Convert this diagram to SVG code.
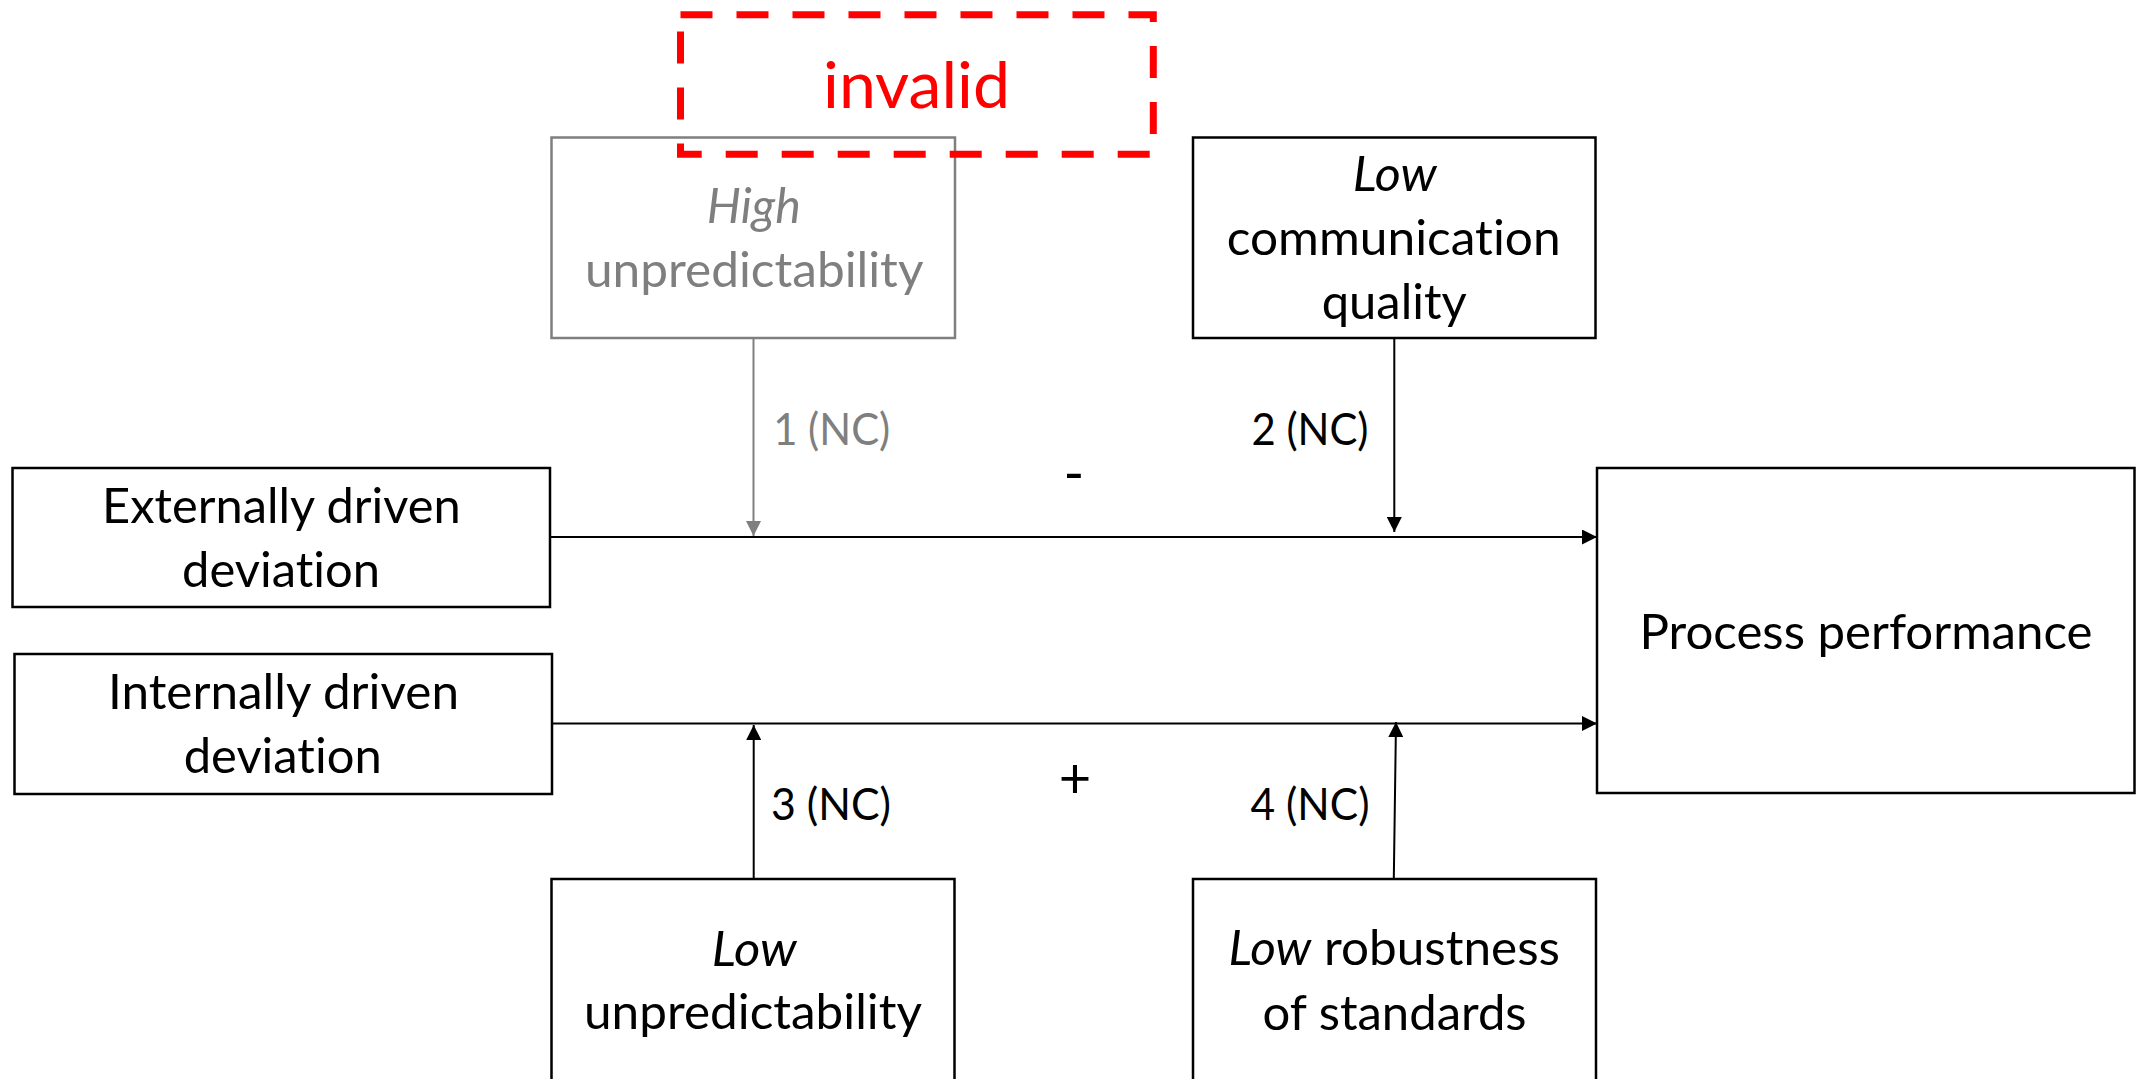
<svg xmlns="http://www.w3.org/2000/svg" width="2136" height="1079" viewBox="0 0 2136 1079">
<defs>
<style>
.box{fill:#fff;stroke:#000;stroke-width:2.5}
.gbox{fill:#fff;stroke:#7f7f7f;stroke-width:2.5}
.t{font-family:Lato,"Open Sans","Liberation Sans",sans-serif;font-size:49px;fill:#000;text-anchor:middle;font-variant-ligatures:none;font-feature-settings:"liga" 0,"dlig" 0}
.g{fill:#7f7f7f}
.lbl{font-size:44px}
.i{font-style:italic}
.ln{stroke:#000;stroke-width:2;fill:none}
.gln{stroke:#7f7f7f;stroke-width:2;fill:none}
</style>
<marker id="ah" markerUnits="userSpaceOnUse" markerWidth="15" markerHeight="15" refX="15" refY="7.5" orient="auto" viewBox="0 0 15 15"><path d="M0,0 L15,7.5 L0,15 z" fill="#000"/></marker>
<marker id="ahg" markerUnits="userSpaceOnUse" markerWidth="15" markerHeight="15" refX="15" refY="7.5" orient="auto" viewBox="0 0 15 15"><path d="M0,0 L15,7.5 L0,15 z" fill="#7f7f7f"/></marker>
</defs>
<rect width="2136" height="1079" fill="#fff"/>

<g id="connectors">
<line class="ln" x1="550" y1="537" x2="1597" y2="537" marker-end="url(#ah)"/>
<line class="ln" x1="552" y1="723.5" x2="1597" y2="723.5" marker-end="url(#ah)"/>
<line class="gln" x1="753.5" y1="338" x2="753.5" y2="536" marker-end="url(#ahg)"/>
<line class="ln" x1="1394.3" y1="338" x2="1394.3" y2="532" marker-end="url(#ah)"/>
<line class="ln" x1="753.7" y1="879" x2="753.7" y2="725" marker-end="url(#ah)"/>
<line class="ln" x1="1393.8" y1="879" x2="1396" y2="722" marker-end="url(#ah)"/>
<text class="t lbl g" x="831.7" y="445" textLength="117" lengthAdjust="spacingAndGlyphs">1 (NC)</text>
<text class="t lbl" x="1310" y="445" textLength="117" lengthAdjust="spacingAndGlyphs">2 (NC)</text>
<text class="t lbl" x="831" y="820" textLength="120" lengthAdjust="spacingAndGlyphs">3 (NC)</text>
<text class="t lbl" x="1310" y="820" textLength="119" lengthAdjust="spacingAndGlyphs">4 (NC)</text>
<text class="t" x="1074" y="493" style="font-size:56px">-</text>
<text class="t" x="1075" y="798" style="font-size:56px">+</text>
</g>

<g id="high-unpredictability">
<rect class="gbox" x="551.5" y="137.5" width="403.5" height="200.5"/>
<text class="t g i" x="753.8" y="223.3" textLength="94" lengthAdjust="spacingAndGlyphs">High</text>
<text class="t g" x="754.2" y="286.7" textLength="338.5" lengthAdjust="spacingAndGlyphs">unpredictability</text>
</g>

<g id="invalid">
<rect x="680.5" y="14.7" width="472.8" height="139.6" fill="none" stroke="#ff0000" stroke-width="7" stroke-dasharray="32 24"/>
<text class="t" x="916.5" y="108.3" style="font-size:64px;fill:#ff0000" textLength="187" lengthAdjust="spacingAndGlyphs">invalid</text>
</g>

<g id="low-communication-quality">
<rect class="box" x="1193" y="137.5" width="402.5" height="200.5"/>
<text class="t i" x="1394.7" y="191" textLength="84" lengthAdjust="spacingAndGlyphs">Low</text>
<text class="t" x="1393.7" y="255" textLength="334" lengthAdjust="spacingAndGlyphs">communication</text>
<text class="t" x="1394.2" y="319" textLength="145" lengthAdjust="spacingAndGlyphs">quality</text>
</g>

<g id="externally-driven">
<rect class="box" x="12.5" y="468" width="537.5" height="139"/>
<text class="t" x="281.4" y="523.3" textLength="358.7" lengthAdjust="spacingAndGlyphs">Externally driven</text>
<text class="t" x="281" y="586.7" textLength="198" lengthAdjust="spacingAndGlyphs">deviation</text>
</g>

<g id="internally-driven">
<rect class="box" x="14.5" y="654" width="537.5" height="140"/>
<text class="t" x="283.5" y="709.3" textLength="351" lengthAdjust="spacingAndGlyphs">Internally driven</text>
<text class="t" x="282.7" y="773.3" textLength="198" lengthAdjust="spacingAndGlyphs">deviation</text>
</g>

<g id="process-performance">
<rect class="box" x="1597" y="468" width="537.5" height="325"/>
<text class="t" x="1866" y="649" textLength="453" lengthAdjust="spacingAndGlyphs">Process performance</text>
</g>

<g id="low-unpredictability">
<rect class="box" x="551.5" y="879" width="403" height="250"/>
<text class="t i" x="754.2" y="966" textLength="85" lengthAdjust="spacingAndGlyphs">Low</text>
<text class="t" x="753" y="1029" textLength="338" lengthAdjust="spacingAndGlyphs">unpredictability</text>
</g>

<g id="low-robustness">
<rect class="box" x="1193" y="879" width="403" height="250"/>
<text class="t" x="1394.3" y="965" textLength="331.5" lengthAdjust="spacingAndGlyphs"><tspan class="i">Low</tspan> robustness</text>
<text class="t" x="1394.6" y="1030" textLength="264" lengthAdjust="spacingAndGlyphs">of standards</text>
</g>
</svg>
